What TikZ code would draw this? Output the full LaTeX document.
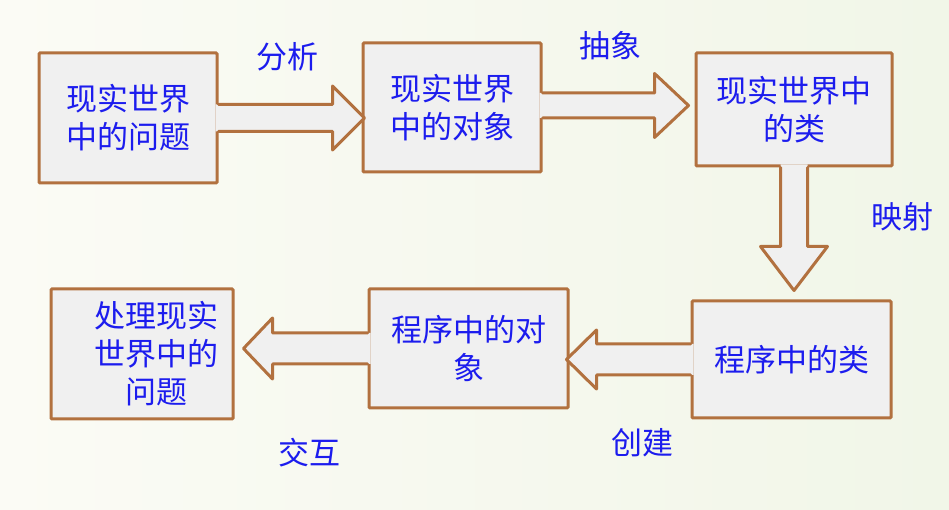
\documentclass[tikz,border=0pt]{standalone}
\usepackage{fontspec}
\newfontfamily\cjk{Noto Sans CJK SC}
\usetikzlibrary{calc}
\definecolor{edgebrown}{HTML}{B2713F}
\definecolor{boxgray}{HTML}{F0F0F0}
\definecolor{txtblue}{HTML}{1C1CEE}
\definecolor{bgleft}{HTML}{FBFBF5}
\definecolor{bgright}{HTML}{F1F6E8}
\tikzset{
  box/.style={draw=edgebrown,fill=boxgray,line width=3pt,rounded corners=1pt,
    inner sep=0pt,align=center,text=txtblue},
  txt/.style={text=txtblue,inner sep=0pt,align=center},
  edge/.style={draw=edgebrown,line width=3pt,line join=round,line cap=round}
}
% fat arrow in local coordinates: length, shaft half width, head half width, head length
\newcommand{\fatarrow}[4]{%
  \fill[boxgray] (-3,#2) -- (#1-#4,#2) -- (#1-#4,#3) -- (#1,0) -- (#1-#4,-#3)
    -- (#1-#4,-#2) -- (-3,-#2) -- cycle;
  \draw[edge] (0,#2) -- (#1-#4,#2) -- (#1-#4,#3) -- (#1,0) -- (#1-#4,-#3)
    -- (#1-#4,-#2) -- (0,-#2);}
\begin{document}
\begin{tikzpicture}[x=1pt,y=1pt,font=\cjk\fontsize{31}{38}\selectfont]
  \useasboundingbox (0,0) rectangle (949,510);
  \shade[left color=bgleft,right color=bgright] (0,0) rectangle (949,510);

  % boxes
  \node[box,minimum width=178,minimum height=130] (q1) at (128,392) {现实世界\\中的问题};
  \node[box,minimum width=178,minimum height=129] (q2) at (452,402.5) {现实世界\\中的对象};
  \node[box,minimum width=196,minimum height=113] (q3) at (794,400.5) {现实世界中\\的类};
  \node[box,minimum width=199,minimum height=117] (q4) at (791.5,150.5) {程序中的类};
  \node[box,minimum width=199,minimum height=119] (q5) at (468.5,161.5) {程序中的对\\象};
  \node[box,minimum width=182,minimum height=130] (q6) at (142,156) {};
  \node[txt] (t6) at ([xshift=14pt]q6.center) {处理现实\\世界中的\\问题};

  % arrows
  \begin{scope}[shift={(q1.east)}] \fatarrow{146}{13.5}{32}{32} \end{scope}
  \begin{scope}[shift={([yshift=2pt]q2.east)}] \fatarrow{146}{12.5}{32}{34} \end{scope}
  \begin{scope}[shift={(q3.south)},rotate=-90] \fatarrow{123}{13.5}{33.5}{44} \end{scope}
  \begin{scope}[shift={(q4.west)},rotate=180] \fatarrow{124}{15.5}{29.5}{30} \end{scope}
  \begin{scope}[shift={(q5.west)},rotate=180] \fatarrow{124}{15.5}{30.5}{29} \end{scope}

  % labels
  \node[txt] (l1) at (287,453) {分析};
  \node[txt] (l2) at (610,464) {抽象};
  \node[txt] (l3) at (902,293) {映射};
  \node[txt] (l4) at (642,67) {创建};
  \node[txt] (l5) at (309,57) {交互};
\end{tikzpicture}
\end{document}
